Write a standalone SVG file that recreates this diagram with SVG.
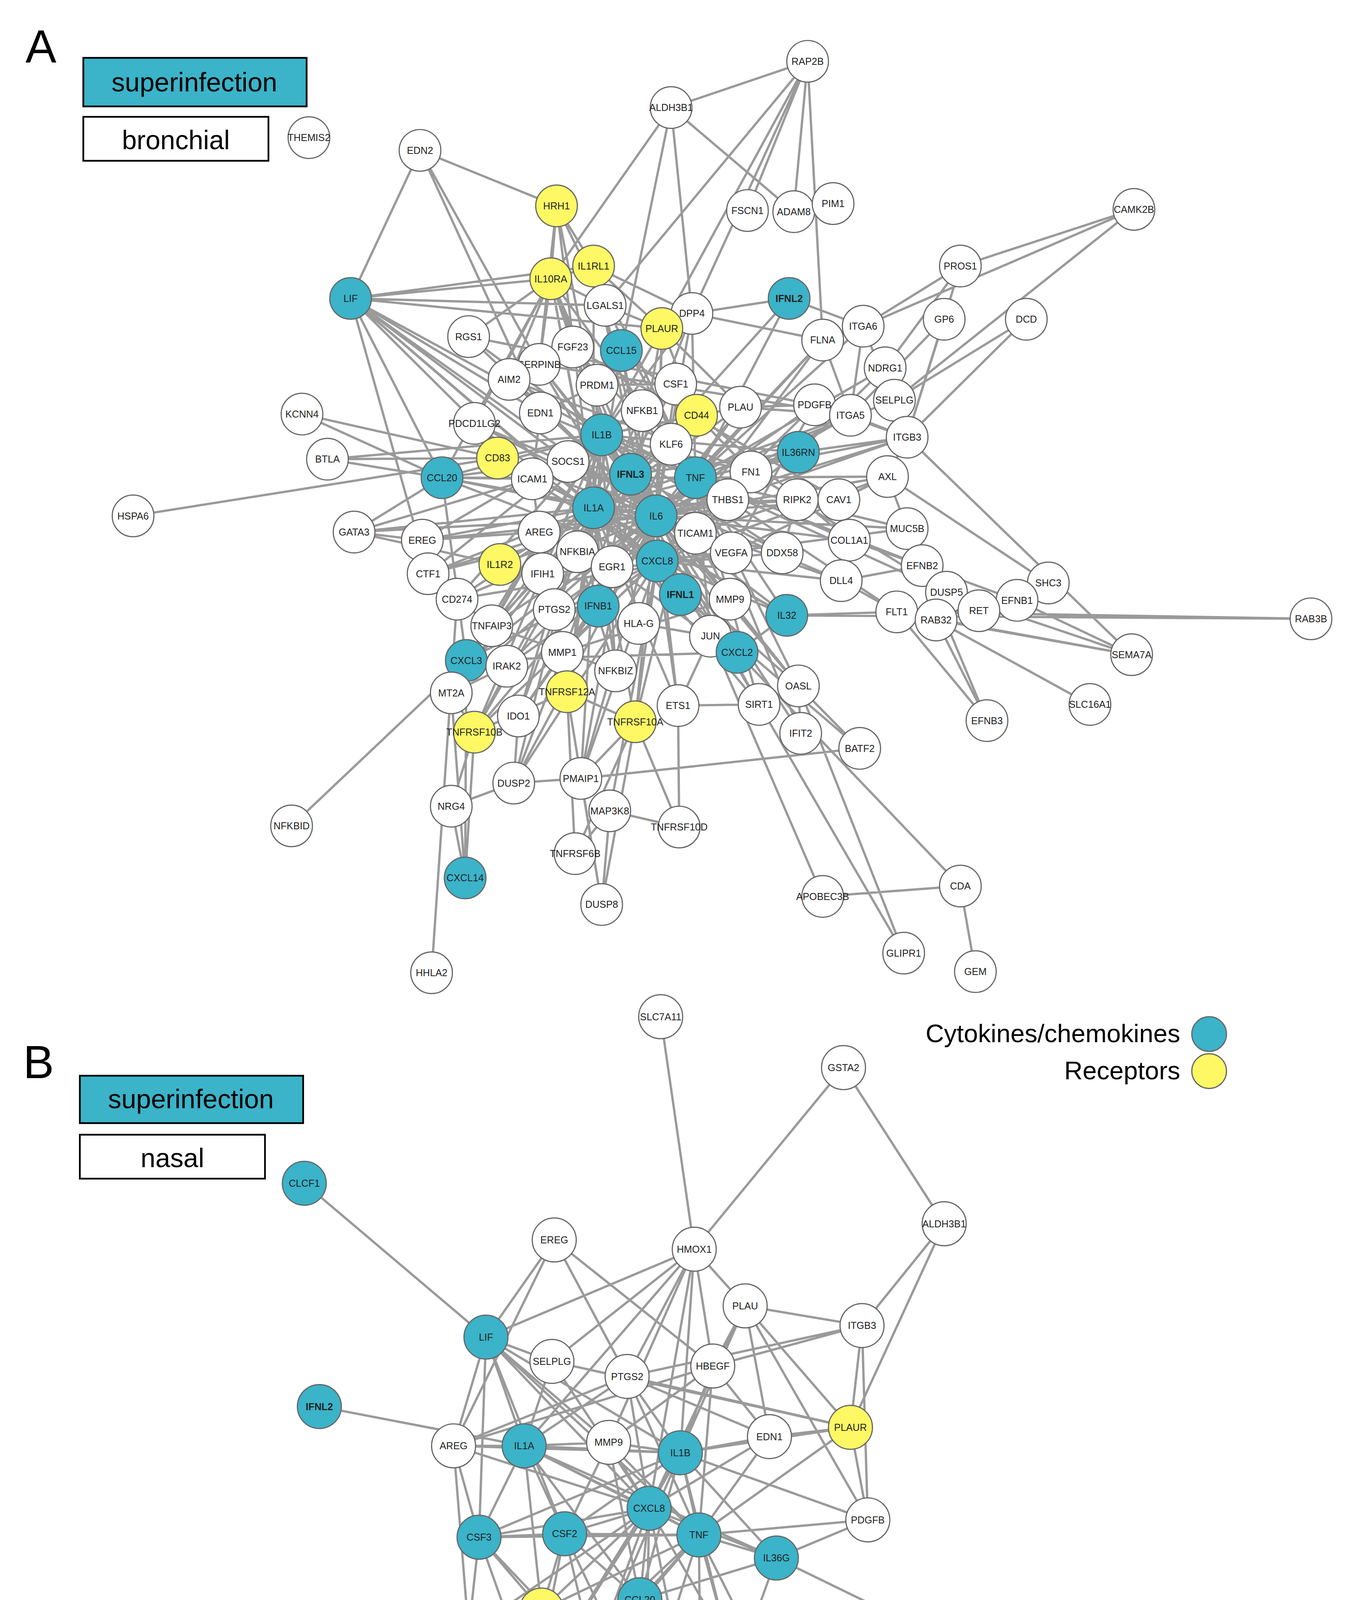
<svg xmlns="http://www.w3.org/2000/svg" width="3506" height="4626" viewBox="0 0 3506 4626">
<style>
.e{stroke:#9a9a9a;stroke-width:2;fill:none}
.n circle{stroke:#666;stroke-width:1;fill:#fff}
.n.c circle{fill:#3bb3c9}
.n.r circle{fill:#fdf864}
.n text{font-family:"Liberation Sans",Arial,sans-serif;font-size:8.5px;text-anchor:middle;fill:#222}
.b text{font-weight:bold}
.lbl{font-family:"Liberation Sans",Arial,sans-serif;fill:#000}
</style>
<rect width="3506" height="4626" fill="#fff"/>
<g transform="scale(2.9611)">
<g id="titles">
<text class="lbl" x="22" y="54" font-size="40">A</text>
<rect x="72" y="50" width="193" height="42" fill="#3bb3c9" stroke="#000" stroke-width="1.5"/>
<text class="lbl" x="168" y="79" font-size="23" text-anchor="middle">superinfection</text>
<rect x="72" y="101" width="160" height="38" fill="#fff" stroke="#000" stroke-width="1.5"/>
<text class="lbl" x="152" y="129" font-size="23" text-anchor="middle">bronchial</text>
<text class="lbl" x="20" y="932" font-size="40">B</text>
<rect x="69" y="930" width="193" height="41" fill="#3bb3c9" stroke="#000" stroke-width="1.5"/>
<text class="lbl" x="165" y="958" font-size="23" text-anchor="middle">superinfection</text>
<rect x="69" y="981" width="160" height="38" fill="#fff" stroke="#000" stroke-width="1.5"/>
<text class="lbl" x="149" y="1009" font-size="23" text-anchor="middle">nasal</text>
</g>
<g id="legend">
<text class="lbl" x="1020" y="901" font-size="22" text-anchor="end">Cytokines/chemokines</text>
<circle cx="1045" cy="894" r="15" fill="#3bb3c9" stroke="#666"/>
<text class="lbl" x="1020" y="933" font-size="22" text-anchor="end">Receptors</text>
<circle cx="1045" cy="926" r="15" fill="#fdf864" stroke="#666"/>
</g>
<g id="connectors">
<path class="e" d="
M363 130L303 258M363 130L481 178M363 130L467 357M363 130L466 315
M698 53L686 183M698 53L646 182M698 53L598 271M698 53L572 284M698 53L580 93M698 53L523 264M698 53L711 294
M580 93L476 241M580 93L686 183M580 93L537 303M580 93L598 271
M481 178L476 241M481 178L513 230M481 178L523 264M481 178L466 315M481 178L520 376
M980 181L830 230M980 181L746 282M980 181L773 346
M830 230L746 282M830 230L784 378M830 230L765 318M816 276L784 378M816 276L735 359M887 276L784 378M887 276L773 346
M303 258L476 241M303 258L513 230M303 258L572 284M303 258L382 413M303 258L467 357M303 258L460 414M303 258L370 496M303 258L523 264M303 258L491 399M303 258L513 439
M682 258L545 410M682 258L746 282M682 258L598 271M682 258L601 413
M261 358L382 413M261 358L430 396M115 446L430 396
M283 397L382 413M283 397L430 396M283 397L520 376M306 460L382 413M306 460L432 488M306 460L460 414
M252 714L403 571M373 841L395 518
M402 759L390 697M402 759L403 571M402 759L410 633M402 759L390 599
M390 697L410 633M390 697L444 677
M520 782L527 701M520 782L490 598M520 782L549 624M520 782L502 673
M497 738L549 624M497 738L490 598M497 738L527 701M587 715L549 624M587 715L527 701M587 715L586 610
M711 775L830 766M711 775L614 550M830 766L843 840M830 766L637 564M781 824L690 593M781 824L656 609
M743 647L690 593M743 647L502 673M743 647L588 514
M1133 535L775 529M1133 535L680 532M978 566L818 512M978 566L879 519M978 566L809 536M978 566L775 529M978 566L784 378
M942 609L809 536M853 623L809 536M853 623L775 529M853 623L797 489M906 504L879 519M906 504L767 412M906 504L846 528M879 519L797 489M879 519L846 528M846 528L775 529M846 528L818 512
M567 446L476 241M567 446L513 230M567 446L303 258M567 446L572 284M567 446L537 303M567 446L598 271M567 446L711 294M567 446L584 332M567 446L640 352M567 446L704 350M567 446L735 359M567 446L784 378M567 446L767 412M567 446L725 432M567 446L734 467M567 446L727 502M567 446L680 532M567 446L637 564M567 446L690 593M567 446L656 609M567 446L586 610M567 446L549 624M567 446L502 673M567 446L444 677M567 446L410 633M567 446L448 619M567 446L403 571M567 446L425 541M567 446L395 518M567 446L370 496M567 446L365 467M567 446L306 460M567 446L382 413M567 446L430 396M567 446L410 366M567 446L440 328M567 446L405 291M567 446L466 315M567 446L784 457M567 446L629 432M567 446L649 408
M601 413L476 241M601 413L513 230M601 413L523 264M601 413L598 271M601 413L746 282M601 413L765 318M601 413L773 346M601 413L784 378M601 413L767 412M601 413L784 457M601 413L797 489M601 413L818 512M601 413L775 529M601 413L680 532M601 413L690 593M601 413L656 609M601 413L614 550M601 413L692 634M601 413L549 624M601 413L486 564M601 413L438 576M601 413L390 599M601 413L382 413M601 413L467 357M601 413L440 328M601 413L495 300M601 413L711 294
M520 376L476 241M520 376L303 258M520 376L405 291M520 376L382 413M520 376L430 396M520 376L365 467M520 376L370 496M520 376L395 518M520 376L425 541M520 376L403 571M520 376L390 599M520 376L410 633M520 376L448 619M520 376L444 677M520 376L502 673M520 376L490 598M520 376L532 580M520 376L552 539M520 376L614 550M520 376L631 518M520 376L632 478M520 376L676 478M520 376L734 467M520 376L690 391M520 376L649 408M520 376L602 359M520 376L640 352M520 376L584 332M520 376L572 284M520 376L598 271
M568 485L476 241M568 485L513 230M568 485L303 258M568 485L537 303M568 485L572 284M568 485L690 391M568 485L767 412M568 485L784 457M568 485L727 502M568 485L680 532M568 485L637 564M568 485L690 593M568 485L586 610M568 485L549 624M568 485L502 673M568 485L527 701M568 485L444 677M568 485L410 633M568 485L403 571M568 485L438 576M568 485L382 413M568 485L430 396M568 485L410 366M568 485L466 315M568 485L495 300M568 485L711 294
M513 439L303 258M513 439L476 241M513 439L513 230M513 439L481 178M513 439L382 413M513 439L430 396M513 439L306 460M513 439L365 467M513 439L432 488M513 439L370 496M513 439L395 518M513 439L403 571M513 439L390 599M513 439L410 633M513 439L448 619M513 439L490 598M513 439L532 580M513 439L586 610M513 439L656 609M513 439L637 564M513 439L680 532M513 439L676 478M513 439L734 467M513 439L725 432M513 439L689 432M513 439L690 391M513 439L640 352M513 439L602 359M513 439L580 384M513 439L735 359
M545 410L682 258M545 410L588 514M545 410L517 524M545 410L469 496M545 410L676 478M545 410L690 593M545 410L692 634M545 410L491 399M545 410L476 241M545 410L601 461M545 410L690 391
M476 241L513 230M476 241L523 264M476 241L405 291M476 241L466 315M476 241L440 328M476 241L382 413M476 241L410 366M513 230L598 271M513 230L572 284M523 264L572 284M598 271L711 294M711 294L746 282M711 294L735 359M746 282L784 378M746 282L735 359M735 359L784 378M773 346L784 378M704 350L784 378M765 318L784 378M784 378L767 412M767 412L725 432M767 412L784 457M725 432L734 467M734 467L727 502M727 502L775 529M727 502L797 489M734 467L797 489M649 408L735 359M649 408L629 432M629 432L784 378M640 352L572 284M640 352L735 359M640 352L704 350M602 359L649 408M602 359L572 284M580 384L529 490M614 550L529 490M614 550L586 610M614 550L552 539M631 518L486 564M631 518L601 461M479 527L517 524M479 527L529 490M499 477L555 355M499 477L532 580M532 580L425 541M425 541L438 576M438 576L390 599M390 599L410 633M410 633L490 598M490 598L549 624M549 624L502 673M502 673L444 677M448 619L444 677M586 610L656 609M656 609L690 593M690 593L692 634M680 532L775 529M680 532L637 564M637 564L614 550M403 571L637 564M382 413L403 571M382 413L460 414M382 413L491 399M460 414L466 460M466 460L365 467M365 467L370 496M370 496L395 518M395 518L425 541M306 460L365 467M491 399L545 410M467 357L460 414M467 357L516 333M516 333L584 332M584 332L555 355M555 355L520 376M689 432L601 461M689 432L676 478M676 478L469 496M632 478L767 412M632 478L704 350M649 408L818 512M690 391L784 378M690 391L765 318M466 315L735 359M440 328L649 408M405 291L704 350M495 300L725 432M537 303L734 467M410 366L727 502M430 396L680 532M432 488L690 391M370 496L649 408M395 518L632 478M486 564L704 350M403 571L584 332M444 677L598 271M502 673L572 284M490 598L537 303M549 624L476 241M656 609L520 376M690 593L466 315M425 541L602 359M448 619L640 352M410 633L584 332
"/>
<path class="e" d="
M263 1023L420 1156M571 879L600 1080M729 923L600 1080M729 923L816 1058M816 1058L745 1146M816 1058L735 1234M276 1216L453 1250
M479 1072L542 1190M479 1072L616 1181M479 1072L420 1156M479 1072L392 1250
M600 1080L477 1177M600 1080L542 1190M600 1080L616 1181M600 1080L526 1247M600 1080L588 1256M600 1080L561 1304M600 1080L644 1129M600 1080L453 1250M600 1080L420 1156
M644 1129L745 1146M644 1129L735 1234M644 1129L616 1181M644 1129L665 1242M644 1129L588 1256M644 1129L561 1304M644 1129L750 1314
M745 1146L735 1234M745 1146L542 1190M745 1146L616 1181M745 1146L750 1314
M420 1156L477 1177M420 1156L453 1250M420 1156L392 1250M420 1156L526 1247M420 1156L414 1329M420 1156L488 1326M420 1156L561 1304M420 1156L588 1256M420 1156L604 1327
M477 1177L453 1250M477 1177L561 1304M477 1177L735 1234
M542 1190L588 1256M542 1190L665 1242M542 1190L561 1304M542 1190L453 1250M542 1190L604 1327M542 1190L392 1250M542 1190L735 1234
M616 1181L665 1242M616 1181L588 1256M616 1181L526 1247M616 1181L604 1327M616 1181L392 1250
M665 1242L735 1234M665 1242L588 1256M665 1242L604 1327M665 1242L561 1304M735 1234L588 1256M735 1234L750 1314M735 1234L604 1327
M392 1250L453 1250M392 1250L414 1329M392 1250L405 1411M392 1250L561 1304M392 1250L588 1256
M453 1250L526 1247M453 1250L588 1256M453 1250L561 1304M453 1250L414 1329M453 1250L488 1326M453 1250L604 1327M453 1250L553 1383M453 1250L468 1392M453 1250L671 1347
M526 1247L588 1256M526 1247L561 1304M526 1247L604 1327M526 1247L488 1326M526 1247L553 1383
M588 1256L561 1304M588 1256L604 1327M588 1256L414 1329M588 1256L488 1326M588 1256L671 1347M588 1256L553 1383M588 1256L750 1314M588 1256L513 1433M588 1256L461 1461M588 1256L630 1423
M561 1304L604 1327M561 1304L488 1326M561 1304L414 1329M561 1304L553 1383M561 1304L671 1347M561 1304L513 1433M561 1304L468 1392M561 1304L630 1423M561 1304L558 1473M561 1304L461 1461M561 1304L405 1411M561 1304L606 1527
M604 1327L488 1326M604 1327L414 1329M604 1327L671 1347M604 1327L553 1383M604 1327L513 1433M604 1327L630 1423M604 1327L750 1314M604 1327L468 1392M604 1327L558 1473M604 1327L688 1494M604 1327L606 1527M604 1327L461 1461
M414 1329L488 1326M414 1329L468 1392M414 1329L405 1411M414 1329L461 1461M414 1329L513 1433
M488 1326L553 1383M488 1326L468 1392M488 1326L513 1433M488 1326L461 1461M488 1326L558 1473
M671 1347L553 1383M671 1347L823 1421M671 1347L750 1314M671 1347L606 1527
M553 1383L513 1433M553 1383L468 1392M553 1383L630 1423M553 1383L558 1473M553 1383L688 1494M553 1383L461 1461
M468 1392L405 1411M468 1392L513 1433M468 1392L461 1461M468 1392L558 1473M405 1411L513 1433M630 1423L513 1433
M513 1433L461 1461M513 1433L558 1473M513 1433L688 1494M513 1433L606 1527M461 1461L606 1527M461 1461L558 1473
"/>
</g>
<g id="nodesA">
<g id="a-THEMIS2" class="n"><circle cx="267" cy="119" r="18"/><text x="267" y="122">THEMIS2</text></g>
<g id="a-EDN2" class="n"><circle cx="363" cy="130" r="18"/><text x="363" y="133">EDN2</text></g>
<g id="a-RAP2B" class="n"><circle cx="698" cy="53" r="18"/><text x="698" y="56">RAP2B</text></g>
<g id="a-ALDH3B1" class="n"><circle cx="580" cy="93" r="18"/><text x="580" y="96">ALDH3B1</text></g>
<g id="a-HRH1" class="n r"><circle cx="481" cy="178" r="18"/><text x="481" y="181">HRH1</text></g>
<g id="a-FSCN1" class="n"><circle cx="646" cy="182" r="18"/><text x="646" y="185">FSCN1</text></g>
<g id="a-ADAM8" class="n"><circle cx="686" cy="183" r="18"/><text x="686" y="186">ADAM8</text></g>
<g id="a-PIM1" class="n"><circle cx="720" cy="176" r="18"/><text x="720" y="179">PIM1</text></g>
<g id="a-CAMK2B" class="n"><circle cx="980" cy="181" r="18"/><text x="980" y="184">CAMK2B</text></g>
<g id="a-IL1RL1" class="n r"><circle cx="513" cy="230" r="18"/><text x="513" y="233">IL1RL1</text></g>
<g id="a-IL10RA" class="n r"><circle cx="476" cy="241" r="18"/><text x="476" y="244">IL10RA</text></g>
<g id="a-LIF" class="n c"><circle cx="303" cy="258" r="18"/><text x="303" y="261">LIF</text></g>
<g id="a-IFNL2" class="n c b"><circle cx="682" cy="258" r="18"/><text x="682" y="261">IFNL2</text></g>
<g id="a-PROS1" class="n"><circle cx="830" cy="230" r="18"/><text x="830" y="233">PROS1</text></g>
<g id="a-GP6" class="n"><circle cx="816" cy="276" r="18"/><text x="816" y="279">GP6</text></g>
<g id="a-DCD" class="n"><circle cx="887" cy="276" r="18"/><text x="887" y="279">DCD</text></g>
<g id="a-LGALS1" class="n"><circle cx="523" cy="264" r="18"/><text x="523" y="267">LGALS1</text></g>
<g id="a-DPP4" class="n"><circle cx="598" cy="271" r="18"/><text x="598" y="274">DPP4</text></g>
<g id="a-PLAUR" class="n r"><circle cx="572" cy="284" r="18"/><text x="572" y="287">PLAUR</text></g>
<g id="a-ITGA6" class="n"><circle cx="746" cy="282" r="18"/><text x="746" y="285">ITGA6</text></g>
<g id="a-FLNA" class="n"><circle cx="711" cy="294" r="18"/><text x="711" y="297">FLNA</text></g>
<g id="a-RGS1" class="n"><circle cx="405" cy="291" r="18"/><text x="405" y="294">RGS1</text></g>
<g id="a-FGF23" class="n"><circle cx="495" cy="300" r="18"/><text x="495" y="303">FGF23</text></g>
<g id="a-CCL15" class="n c"><circle cx="537" cy="303" r="18"/><text x="537" y="306">CCL15</text></g>
<g id="a-SERPINB" class="n"><circle cx="466" cy="315" r="18"/><text x="466" y="318">SERPINB</text></g>
<g id="a-NDRG1" class="n"><circle cx="765" cy="318" r="18"/><text x="765" y="321">NDRG1</text></g>
<g id="a-AIM2" class="n"><circle cx="440" cy="328" r="18"/><text x="440" y="331">AIM2</text></g>
<g id="a-PRDM1" class="n"><circle cx="516" cy="333" r="18"/><text x="516" y="336">PRDM1</text></g>
<g id="a-CSF1" class="n"><circle cx="584" cy="332" r="18"/><text x="584" y="335">CSF1</text></g>
<g id="a-SELPLG" class="n"><circle cx="773" cy="346" r="18"/><text x="773" y="349">SELPLG</text></g>
<g id="a-PDGFB" class="n"><circle cx="704" cy="350" r="18"/><text x="704" y="353">PDGFB</text></g>
<g id="a-PLAU" class="n"><circle cx="640" cy="352" r="18"/><text x="640" y="355">PLAU</text></g>
<g id="a-KCNN4" class="n"><circle cx="261" cy="358" r="18"/><text x="261" y="361">KCNN4</text></g>
<g id="a-EDN1" class="n"><circle cx="467" cy="357" r="18"/><text x="467" y="360">EDN1</text></g>
<g id="a-NFKB1" class="n"><circle cx="555" cy="355" r="18"/><text x="555" y="358">NFKB1</text></g>
<g id="a-CD44" class="n r"><circle cx="602" cy="359" r="18"/><text x="602" y="362">CD44</text></g>
<g id="a-ITGA5" class="n"><circle cx="735" cy="359" r="18"/><text x="735" y="362">ITGA5</text></g>
<g id="a-PDCD1LG2" class="n"><circle cx="410" cy="366" r="18"/><text x="410" y="369">PDCD1LG2</text></g>
<g id="a-IL1B" class="n c"><circle cx="520" cy="376" r="18"/><text x="520" y="379">IL1B</text></g>
<g id="a-KLF6" class="n"><circle cx="580" cy="384" r="18"/><text x="580" y="387">KLF6</text></g>
<g id="a-ITGB3" class="n"><circle cx="784" cy="378" r="18"/><text x="784" y="381">ITGB3</text></g>
<g id="a-IL36RN" class="n c"><circle cx="690" cy="391" r="18"/><text x="690" y="394">IL36RN</text></g>
<g id="a-BTLA" class="n"><circle cx="283" cy="397" r="18"/><text x="283" y="400">BTLA</text></g>
<g id="a-CD83" class="n r"><circle cx="430" cy="396" r="18"/><text x="430" y="399">CD83</text></g>
<g id="a-SOCS1" class="n"><circle cx="491" cy="399" r="18"/><text x="491" y="402">SOCS1</text></g>
<g id="a-IFNL3" class="n c b"><circle cx="545" cy="410" r="18"/><text x="545" y="413">IFNL3</text></g>
<g id="a-TNF" class="n c"><circle cx="601" cy="413" r="18"/><text x="601" y="416">TNF</text></g>
<g id="a-FN1" class="n"><circle cx="649" cy="408" r="18"/><text x="649" y="411">FN1</text></g>
<g id="a-AXL" class="n"><circle cx="767" cy="412" r="18"/><text x="767" y="415">AXL</text></g>
<g id="a-CCL20" class="n c"><circle cx="382" cy="413" r="18"/><text x="382" y="416">CCL20</text></g>
<g id="a-ICAM1" class="n"><circle cx="460" cy="414" r="18"/><text x="460" y="417">ICAM1</text></g>
<g id="a-THBS1" class="n"><circle cx="629" cy="432" r="18"/><text x="629" y="435">THBS1</text></g>
<g id="a-RIPK2" class="n"><circle cx="689" cy="432" r="18"/><text x="689" y="435">RIPK2</text></g>
<g id="a-CAV1" class="n"><circle cx="725" cy="432" r="18"/><text x="725" y="435">CAV1</text></g>
<g id="a-HSPA6" class="n"><circle cx="115" cy="446" r="18"/><text x="115" y="449">HSPA6</text></g>
<g id="a-IL1A" class="n c"><circle cx="513" cy="439" r="18"/><text x="513" y="442">IL1A</text></g>
<g id="a-IL6" class="n c"><circle cx="567" cy="446" r="18"/><text x="567" y="449">IL6</text></g>
<g id="a-GATA3" class="n"><circle cx="306" cy="460" r="18"/><text x="306" y="463">GATA3</text></g>
<g id="a-AREG" class="n"><circle cx="466" cy="460" r="18"/><text x="466" y="463">AREG</text></g>
<g id="a-TICAM1" class="n"><circle cx="601" cy="461" r="18"/><text x="601" y="464">TICAM1</text></g>
<g id="a-MUC5B" class="n"><circle cx="784" cy="457" r="18"/><text x="784" y="460">MUC5B</text></g>
<g id="a-EREG" class="n"><circle cx="365" cy="467" r="18"/><text x="365" y="470">EREG</text></g>
<g id="a-COL1A1" class="n"><circle cx="734" cy="467" r="18"/><text x="734" y="470">COL1A1</text></g>
<g id="a-NFKBIA" class="n"><circle cx="499" cy="477" r="18"/><text x="499" y="480">NFKBIA</text></g>
<g id="a-VEGFA" class="n"><circle cx="632" cy="478" r="18"/><text x="632" y="481">VEGFA</text></g>
<g id="a-DDX58" class="n"><circle cx="676" cy="478" r="18"/><text x="676" y="481">DDX58</text></g>
<g id="a-CXCL8" class="n c"><circle cx="568" cy="485" r="18"/><text x="568" y="488">CXCL8</text></g>
<g id="a-EGR1" class="n"><circle cx="529" cy="490" r="18"/><text x="529" y="493">EGR1</text></g>
<g id="a-IFIH1" class="n"><circle cx="469" cy="496" r="18"/><text x="469" y="499">IFIH1</text></g>
<g id="a-IL1R2" class="n r"><circle cx="432" cy="488" r="18"/><text x="432" y="491">IL1R2</text></g>
<g id="a-EFNB2" class="n"><circle cx="797" cy="489" r="18"/><text x="797" y="492">EFNB2</text></g>
<g id="a-CTF1" class="n"><circle cx="370" cy="496" r="18"/><text x="370" y="499">CTF1</text></g>
<g id="a-DLL4" class="n"><circle cx="727" cy="502" r="18"/><text x="727" y="505">DLL4</text></g>
<g id="a-DUSP5" class="n"><circle cx="818" cy="512" r="18"/><text x="818" y="515">DUSP5</text></g>
<g id="a-SHC3" class="n"><circle cx="906" cy="504" r="18"/><text x="906" y="507">SHC3</text></g>
<g id="a-EFNB1" class="n"><circle cx="879" cy="519" r="18"/><text x="879" y="522">EFNB1</text></g>
<g id="a-CD274" class="n"><circle cx="395" cy="518" r="18"/><text x="395" y="521">CD274</text></g>
<g id="a-IFNL1" class="n c b"><circle cx="588" cy="514" r="18"/><text x="588" y="517">IFNL1</text></g>
<g id="a-MMP9" class="n"><circle cx="631" cy="518" r="18"/><text x="631" y="521">MMP9</text></g>
<g id="a-IFNB1" class="n c"><circle cx="517" cy="524" r="18"/><text x="517" y="527">IFNB1</text></g>
<g id="a-PTGS2" class="n"><circle cx="479" cy="527" r="18"/><text x="479" y="530">PTGS2</text></g>
<g id="a-FLT1" class="n"><circle cx="775" cy="529" r="18"/><text x="775" y="532">FLT1</text></g>
<g id="a-RET" class="n"><circle cx="846" cy="528" r="18"/><text x="846" y="531">RET</text></g>
<g id="a-RAB32" class="n"><circle cx="809" cy="536" r="18"/><text x="809" y="539">RAB32</text></g>
<g id="a-RAB3B" class="n"><circle cx="1133" cy="535" r="18"/><text x="1133" y="538">RAB3B</text></g>
<g id="a-IL32" class="n c"><circle cx="680" cy="532" r="18"/><text x="680" y="535">IL32</text></g>
<g id="a-TNFAIP3" class="n"><circle cx="425" cy="541" r="18"/><text x="425" y="544">TNFAIP3</text></g>
<g id="a-HLA-G" class="n"><circle cx="552" cy="539" r="18"/><text x="552" y="542">HLA-G</text></g>
<g id="a-JUN" class="n"><circle cx="614" cy="550" r="18"/><text x="614" y="553">JUN</text></g>
<g id="a-CXCL2" class="n c"><circle cx="637" cy="564" r="18"/><text x="637" y="567">CXCL2</text></g>
<g id="a-SEMA7A" class="n"><circle cx="978" cy="566" r="18"/><text x="978" y="569">SEMA7A</text></g>
<g id="a-CXCL3" class="n c"><circle cx="403" cy="571" r="18"/><text x="403" y="574">CXCL3</text></g>
<g id="a-MMP1" class="n"><circle cx="486" cy="564" r="18"/><text x="486" y="567">MMP1</text></g>
<g id="a-NFKBIZ" class="n"><circle cx="532" cy="580" r="18"/><text x="532" y="583">NFKBIZ</text></g>
<g id="a-IRAK2" class="n"><circle cx="438" cy="576" r="18"/><text x="438" y="579">IRAK2</text></g>
<g id="a-OASL" class="n"><circle cx="690" cy="593" r="18"/><text x="690" y="596">OASL</text></g>
<g id="a-TNFRSF12A" class="n r"><circle cx="490" cy="598" r="18"/><text x="490" y="601">TNFRSF12A</text></g>
<g id="a-MT2A" class="n"><circle cx="390" cy="599" r="18"/><text x="390" y="602">MT2A</text></g>
<g id="a-SLC16A1" class="n"><circle cx="942" cy="609" r="18"/><text x="942" y="612">SLC16A1</text></g>
<g id="a-ETS1" class="n"><circle cx="586" cy="610" r="18"/><text x="586" y="613">ETS1</text></g>
<g id="a-SIRT1" class="n"><circle cx="656" cy="609" r="18"/><text x="656" y="612">SIRT1</text></g>
<g id="a-IDO1" class="n"><circle cx="448" cy="619" r="18"/><text x="448" y="622">IDO1</text></g>
<g id="a-TNFRSF10A" class="n r"><circle cx="549" cy="624" r="18"/><text x="549" y="627">TNFRSF10A</text></g>
<g id="a-EFNB3" class="n"><circle cx="853" cy="623" r="18"/><text x="853" y="626">EFNB3</text></g>
<g id="a-TNFRSF10B" class="n r"><circle cx="410" cy="633" r="18"/><text x="410" y="636">TNFRSF10B</text></g>
<g id="a-IFIT2" class="n"><circle cx="692" cy="634" r="18"/><text x="692" y="637">IFIT2</text></g>
<g id="a-BATF2" class="n"><circle cx="743" cy="647" r="18"/><text x="743" y="650">BATF2</text></g>
<g id="a-DUSP2" class="n"><circle cx="444" cy="677" r="18"/><text x="444" y="680">DUSP2</text></g>
<g id="a-PMAIP1" class="n"><circle cx="502" cy="673" r="18"/><text x="502" y="676">PMAIP1</text></g>
<g id="a-NRG4" class="n"><circle cx="390" cy="697" r="18"/><text x="390" y="700">NRG4</text></g>
<g id="a-MAP3K8" class="n"><circle cx="527" cy="701" r="18"/><text x="527" y="704">MAP3K8</text></g>
<g id="a-NFKBID" class="n"><circle cx="252" cy="714" r="18"/><text x="252" y="717">NFKBID</text></g>
<g id="a-TNFRSF10D" class="n"><circle cx="587" cy="715" r="18"/><text x="587" y="718">TNFRSF10D</text></g>
<g id="a-TNFRSF6B" class="n"><circle cx="497" cy="738" r="18"/><text x="497" y="741">TNFRSF6B</text></g>
<g id="a-CXCL14" class="n c"><circle cx="402" cy="759" r="18"/><text x="402" y="762">CXCL14</text></g>
<g id="a-DUSP8" class="n"><circle cx="520" cy="782" r="18"/><text x="520" y="785">DUSP8</text></g>
<g id="a-APOBEC3B" class="n"><circle cx="711" cy="775" r="18"/><text x="711" y="778">APOBEC3B</text></g>
<g id="a-CDA" class="n"><circle cx="830" cy="766" r="18"/><text x="830" y="769">CDA</text></g>
<g id="a-GLIPR1" class="n"><circle cx="781" cy="824" r="18"/><text x="781" y="827">GLIPR1</text></g>
<g id="a-GEM" class="n"><circle cx="843" cy="840" r="18"/><text x="843" y="843">GEM</text></g>
<g id="a-HHLA2" class="n"><circle cx="373" cy="841" r="18"/><text x="373" y="844">HHLA2</text></g>
</g>
<g id="nodesB">
<g id="b-SLC7A11" class="n"><circle cx="571" cy="879" r="19"/><text x="571" y="882">SLC7A11</text></g>
<g id="b-GSTA2" class="n"><circle cx="729" cy="923" r="19"/><text x="729" y="926">GSTA2</text></g>
<g id="b-CLCF1" class="n c"><circle cx="263" cy="1023" r="19"/><text x="263" y="1026">CLCF1</text></g>
<g id="b-ALDH3B1" class="n"><circle cx="816" cy="1058" r="19"/><text x="816" y="1061">ALDH3B1</text></g>
<g id="b-EREG" class="n"><circle cx="479" cy="1072" r="19"/><text x="479" y="1075">EREG</text></g>
<g id="b-HMOX1" class="n"><circle cx="600" cy="1080" r="19"/><text x="600" y="1083">HMOX1</text></g>
<g id="b-PLAU" class="n"><circle cx="644" cy="1129" r="19"/><text x="644" y="1132">PLAU</text></g>
<g id="b-ITGB3" class="n"><circle cx="745" cy="1146" r="19"/><text x="745" y="1149">ITGB3</text></g>
<g id="b-LIF" class="n c"><circle cx="420" cy="1156" r="19"/><text x="420" y="1159">LIF</text></g>
<g id="b-SELPLG" class="n"><circle cx="477" cy="1177" r="19"/><text x="477" y="1180">SELPLG</text></g>
<g id="b-HBEGF" class="n"><circle cx="616" cy="1181" r="19"/><text x="616" y="1184">HBEGF</text></g>
<g id="b-PTGS2" class="n"><circle cx="542" cy="1190" r="19"/><text x="542" y="1193">PTGS2</text></g>
<g id="b-IFNL2" class="n c b"><circle cx="276" cy="1216" r="19"/><text x="276" y="1219">IFNL2</text></g>
<g id="b-EDN1" class="n"><circle cx="665" cy="1242" r="19"/><text x="665" y="1245">EDN1</text></g>
<g id="b-PLAUR" class="n r"><circle cx="735" cy="1234" r="19"/><text x="735" y="1237">PLAUR</text></g>
<g id="b-AREG" class="n"><circle cx="392" cy="1250" r="19"/><text x="392" y="1253">AREG</text></g>
<g id="b-IL1A" class="n c"><circle cx="453" cy="1250" r="19"/><text x="453" y="1253">IL1A</text></g>
<g id="b-MMP9" class="n"><circle cx="526" cy="1247" r="19"/><text x="526" y="1250">MMP9</text></g>
<g id="b-IL1B" class="n c"><circle cx="588" cy="1256" r="19"/><text x="588" y="1259">IL1B</text></g>
<g id="b-CXCL8" class="n c"><circle cx="561" cy="1304" r="19"/><text x="561" y="1307">CXCL8</text></g>
<g id="b-PDGFB" class="n"><circle cx="750" cy="1314" r="19"/><text x="750" y="1317">PDGFB</text></g>
<g id="b-CSF3" class="n c"><circle cx="414" cy="1329" r="19"/><text x="414" y="1332">CSF3</text></g>
<g id="b-CSF2" class="n c"><circle cx="488" cy="1326" r="19"/><text x="488" y="1329">CSF2</text></g>
<g id="b-TNF" class="n c"><circle cx="604" cy="1327" r="19"/><text x="604" y="1330">TNF</text></g>
<g id="b-IL36G" class="n c"><circle cx="671" cy="1347" r="19"/><text x="671" y="1350">IL36G</text></g>
<g id="b-CCL20" class="n c"><circle cx="553" cy="1383" r="19"/><text x="553" y="1386">CCL20</text></g>
<g id="b-IL1RL1" class="n r"><circle cx="468" cy="1392" r="19"/><text x="468" y="1395">IL1RL1</text></g>
<g id="b-MUC5B" class="n"><circle cx="405" cy="1411" r="19"/><text x="405" y="1414">MUC5B</text></g>
<g id="b-PRDM1" class="n"><circle cx="823" cy="1421" r="19"/><text x="823" y="1424">PRDM1</text></g>
<g id="b-MUC5AC" class="n"><circle cx="630" cy="1423" r="19"/><text x="630" y="1426">MUC5AC</text></g>
<g id="b-CXCL3" class="n c"><circle cx="513" cy="1433" r="19"/><text x="513" y="1436">CXCL3</text></g>
<g id="b-IL23A" class="n c"><circle cx="461" cy="1461" r="19"/><text x="461" y="1464">IL23A</text></g>
<g id="b-FCGR2A" class="n r"><circle cx="558" cy="1473" r="19"/><text x="558" y="1476">FCGR2A</text></g>
<g id="b-CCL15" class="n c"><circle cx="688" cy="1494" r="19"/><text x="688" y="1497">CCL15</text></g>
<g id="b-IL17C" class="n c"><circle cx="606" cy="1527" r="19"/><text x="606" y="1530">IL17C</text></g>
</g>
</g>
</svg>
